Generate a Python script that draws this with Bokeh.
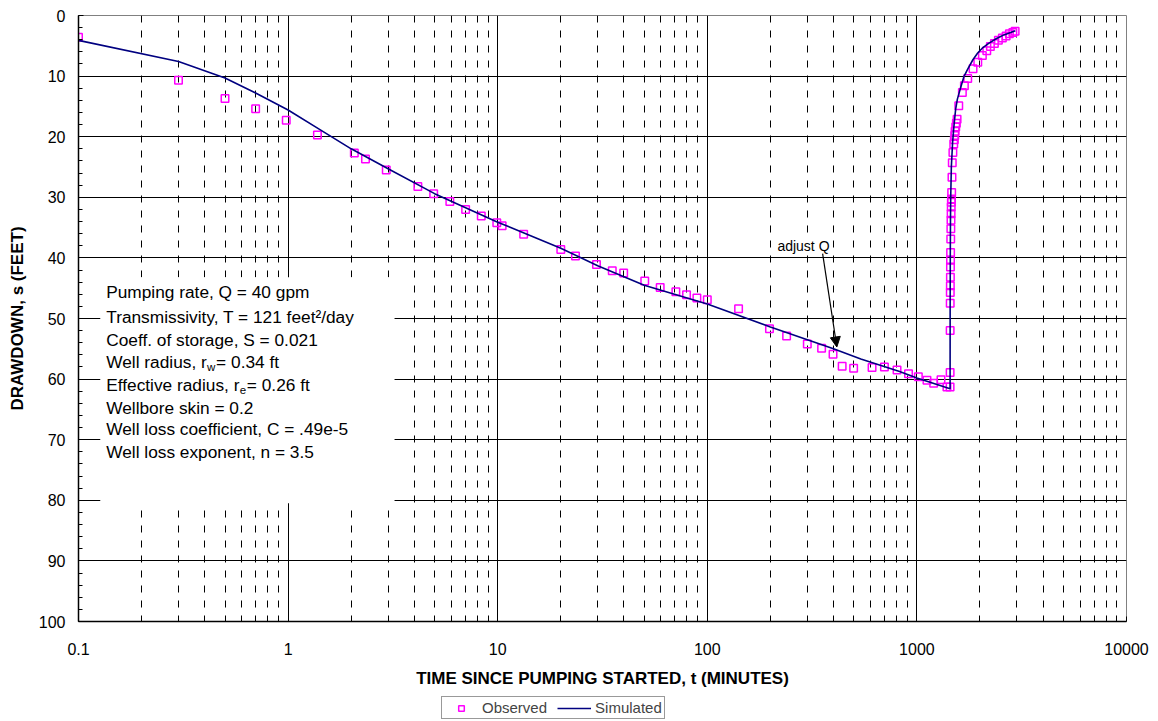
from bokeh.plotting import figure
from bokeh.layouts import column
from bokeh.models import (Range1d, FixedTicker, CustomJSTickFormatter, BoxAnnotation,
                          Label, Arrow, NormalHead, Legend, LegendItem)
from bokeh.embed import file_html
from bokeh.resources import INLINE

# ---------------- data ----------------
obs_t = [0.1, 0.3, 0.5, 0.7, 0.98, 1.38, 2.07, 2.34, 2.94, 4.16, 4.95, 5.91, 7.03, 8.35,
         9.9, 10.5, 13.3, 20, 23.5, 29.6, 35.2, 39.9, 50.3, 59.6, 70.8, 79.6, 89.2, 100,
         141, 198, 239, 300, 351, 398, 440, 499, 611, 700, 804, 912, 1016, 1117, 1202,
         1303, 1391, 1440,
         1440.5, 1441, 1442, 1443, 1444, 1445, 1446, 1447, 1448, 1450, 1452, 1454, 1456,
         1458, 1460, 1462, 1465, 1470, 1475, 1485, 1499, 1509, 1516, 1521, 1532, 1543,
         1555, 1584, 1648, 1685, 1748, 1853, 1952, 2053, 2155, 2242, 2343, 2448, 2557,
         2665, 2763, 2869, 2942]
obs_s = [3.6, 10.7, 13.7, 15.4, 17.3, 19.7, 22.7, 23.7, 25.5, 28.2, 29.4, 30.7, 32.0, 33.1,
         34.2, 34.7, 36.1, 38.6, 39.7, 41.1, 42.1, 42.5, 43.8, 44.9, 45.6, 46.1, 46.6, 46.9,
         48.4, 51.7, 52.9, 54.2, 54.9, 55.9, 57.9, 58.2, 58.1, 58.0, 58.5, 59.1, 59.6, 60.2,
         60.7, 60.1, 61.3, 61.3,
         58.9, 52.0, 47.5, 45.7, 44.6, 43.2, 41.5, 40.4, 39.1, 36.9, 35.2, 33.8, 32.7,
         31.6, 30.8, 30.3, 29.2, 26.7, 24.3, 22.6, 21.2, 20.5, 19.8, 19.1, 18.4, 17.8,
         17.1, 14.9, 12.7, 11.6, 10.4, 8.8, 7.7, 6.6, 5.8, 5.1, 4.6, 4.1, 3.7,
         3.4, 3.0, 2.8, 2.6]

sim_t = [0.1, 0.3, 0.5, 0.7, 1.0, 1.4, 2.0, 3.0, 5.0, 10, 20, 30, 50, 100, 200, 400, 540,
         820, 1000, 1440, 1441, 1443, 1446, 1450, 1460, 1480, 1500, 1530, 1560, 1620, 1680,
         1750, 1850, 1950, 2050, 2200, 2400, 2600, 2800, 2950]
sim_s = [4.1, 7.6, 10.3, 12.8, 15.6, 18.7, 22.0, 25.3, 29.4, 34.1, 38.4, 41.3, 44.5, 47.6,
         51.4, 55.0, 56.7, 58.7, 59.8, 61.6, 48.0, 40.0, 34.0, 30.0, 25.0, 21.0, 18.5, 15.5,
         13.8, 11.8, 10.0, 8.8, 7.3, 6.2, 5.4, 4.6, 3.8, 3.2, 2.8, 2.5]

x_ticks = [0.1, 1, 10, 100, 1000, 10000]
x_tick_labels = ["0.1", "1", "10", "100", "1000", "10000"]
x_minor = [m * d for d in [0.1, 1, 10, 100, 1000] for m in range(2, 10)]
y_ticks = [0, 10, 20, 30, 40, 50, 60, 70, 80, 90, 100]
y_minor = list(range(0, 101, 2))

FONT = "Liberation Sans"
OBS_STYLE = dict(marker="square", size=7.5, line_color="#FF00FF", fill_color=None, line_width=1.5)
SIM_STYLE = dict(line_color="#000080", line_width=1.6)

p = figure(width=1150, height=695, x_axis_type="log",
           x_range=Range1d(0.1, 10000), y_range=Range1d(100, 0),
           output_backend="svg", toolbar_location=None,
           min_border_left=78, min_border_right=24, min_border_top=15, min_border_bottom=74)
p.background_fill_color = "white"
p.border_fill_color = "white"
p.outline_line_color = "#808080"
p.outline_line_width = 1

xt = FixedTicker(ticks=x_ticks, minor_ticks=x_minor)
yt = FixedTicker(ticks=y_ticks, minor_ticks=y_minor)
p.xaxis.ticker = xt
p.xgrid.ticker = xt
p.yaxis.ticker = yt
p.ygrid.ticker = yt
p.xaxis.formatter = CustomJSTickFormatter(code="return tick.toString();")
p.xaxis.major_label_overrides = dict(zip(x_ticks, x_tick_labels))

p.xgrid.grid_line_color = "black"
p.xgrid.minor_grid_line_color = "black"
p.xgrid.minor_grid_line_dash = "7 8"
p.ygrid.grid_line_color = "black"
p.ygrid.minor_grid_line_color = None

for ax in (p.xaxis[0], p.yaxis[0]):
    ax.axis_line_color = "black"
    ax.axis_line_width = 1.5
    ax.major_tick_line_color = "black"
    ax.minor_tick_line_color = "black"
    ax.major_tick_in = 5
    ax.major_tick_out = 0
    ax.minor_tick_in = 4
    ax.minor_tick_out = 0
    ax.major_label_text_font = FONT
    ax.major_label_text_font_size = "16px"
    ax.major_label_text_color = "black"
    ax.axis_label_text_font = FONT
    ax.axis_label_text_font_size = "17px"
    ax.axis_label_text_font_style = "bold"
    ax.axis_label_text_color = "black"

p.xaxis.axis_label = "TIME SINCE PUMPING STARTED, t (MINUTES)"
p.xaxis.major_label_standoff = 21
p.xaxis.axis_label_standoff = 11
p.yaxis.axis_label = "DRAWDOWN, s (FEET)"
p.yaxis.major_label_standoff = 13
p.yaxis.axis_label_standoff = 9

# white box behind the parameter text
p.add_layout(BoxAnnotation(left=0.127, right=3.22, top=43.2, bottom=80.5,
                           fill_color="white", fill_alpha=1.0, line_color=None))

r_obs = p.scatter(obs_t, obs_s, **OBS_STYLE)
r_sim = p.line(sim_t, sim_s, **SIM_STYLE)

# parameter text
TX = 0.1356
FS = "17.3px"
SUB = "11.5px"
lines = [
    (45.7, "Pumping rate, Q = 40 gpm"),
    (49.8, "Transmissivity, T = 121 feet\u00b2/day"),
    (53.5, "Coeff. of storage, S = 0.021"),
    (64.7, "Wellbore skin = 0.2"),
    (68.3, "Well loss coefficient, C = .49e-5"),
    (72.1, "Well loss exponent, n = 3.5"),
]
for yv, txt in lines:
    p.add_layout(Label(x=TX, y=yv, text=txt, text_font=FONT, text_font_size=FS,
                       text_baseline="middle", text_align="left", text_color="black"))

def sub_line(yv, main, sub, rest, w_main, w_sub):
    p.add_layout(Label(x=TX, y=yv, text=main, text_font=FONT, text_font_size=FS,
                       text_baseline="middle", text_color="black"))
    p.add_layout(Label(x=TX, y=yv + 0.9, x_offset=w_main, text=sub, text_font=FONT,
                       text_font_size=SUB, text_baseline="middle", text_color="black"))
    p.add_layout(Label(x=TX, y=yv, x_offset=w_main + w_sub, text=rest, text_font=FONT,
                       text_font_size=FS, text_baseline="middle", text_color="black"))

sub_line(57.1, "Well radius, r", "w", " = 0.34 ft", 100.9, 9.0)
sub_line(60.9, "Effective radius, r", "e", " = 0.26 ft", 133.6, 7.0)

# annotation
p.add_layout(Label(x=216, y=38.1, text="adjust Q", text_font=FONT, text_font_size="14px",
                   text_baseline="middle", text_color="black",
                   background_fill_color="white", background_fill_alpha=1.0))
p.add_layout(Arrow(end=NormalHead(size=10, fill_color="black", line_color="black"),
                   x_start=355, y_start=39.3, x_end=415, y_end=54.7,
                   line_color="black", line_width=1.2))

# ---------- legend strip (separate small figure below) ----------
p2 = figure(width=1150, height=25, x_range=Range1d(0, 1), y_range=Range1d(0, 1),
            output_backend="svg", toolbar_location=None,
            x_axis_location=None, y_axis_location=None, min_border=0)
p2.outline_line_color = None
p2.grid.visible = False
p2.background_fill_color = "white"
p2.border_fill_color = "white"
# legend-only proxies, placed outside the strip's visible range
l_obs = p2.scatter([5], [5], **OBS_STYLE)
l_sim = p2.line([5, 6], [5, 5], **SIM_STYLE)
legend = Legend(items=[LegendItem(label="Observed", renderers=[l_obs]),
                       LegendItem(label="Simulated", renderers=[l_sim])],
                orientation="horizontal", location=(363, 1),
                padding=2, spacing=10, margin=0,
                glyph_width=34, glyph_height=14, label_height=14, label_standoff=4,
                label_text_font=FONT, label_text_font_size="15px",
                border_line_color="#333333", border_line_width=1,
                background_fill_color="white", background_fill_alpha=1.0)
p2.add_layout(legend)

layout = column(p, p2, spacing=0)
open("out.html", "w").write(file_html(layout, INLINE))
